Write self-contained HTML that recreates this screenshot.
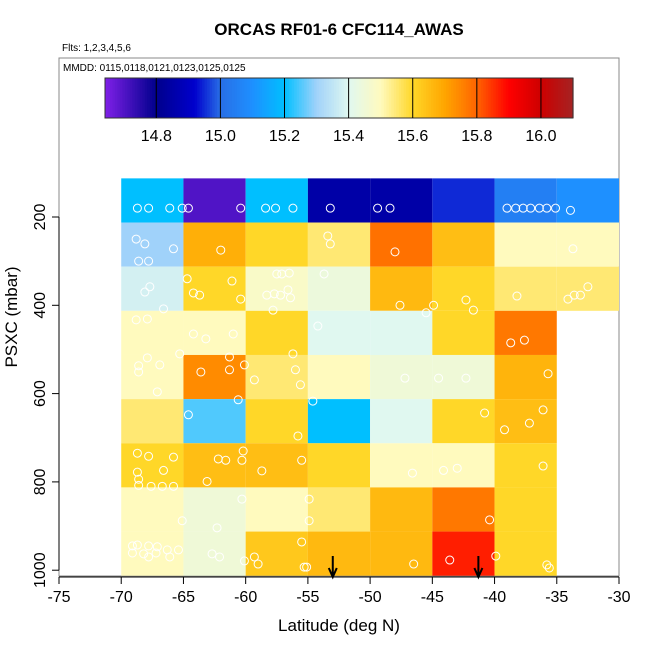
<!DOCTYPE html>
<html><head><meta charset="utf-8"><style>
body{margin:0;background:#fff;font-family:"Liberation Sans",sans-serif}
</style></head><body>
<svg id="c" width="650" height="650" xmlns="http://www.w3.org/2000/svg" font-family="Liberation Sans, sans-serif">
<text x="339" y="35" text-anchor="middle" font-size="17" font-weight="bold">ORCAS RF01-6 CFC114_AWAS</text>
<text x="62" y="51" font-size="10">Flts: 1,2,3,4,5,6</text>
<rect x="59" y="58" width="560" height="518" fill="none" stroke="#888"/>
<text x="63" y="71" font-size="10">MMDD: 0115,0118,0121,0123,0125,0125</text>
<g id="cells"></g><g id="pts"></g><g id="cbar"></g><g id="axes"></g>
<text x="339" y="631" text-anchor="middle" font-size="17">Latitude (deg N)</text>
<text transform="translate(17,317) rotate(-90)" text-anchor="middle" font-size="17">PSXC (mbar)</text>
</svg>
<script>
const lats=[-70,-65,-60,-55,-50,-45,-40,-35];
const pBounds=[112.5,212.5,312.5,412.5,512.5,612.5,712.5,812.5,912.5,1012.5];
const cellValues=[
[15.2,14.7,15.2,14.85,14.85,14.95,15.05,15.1],
[15.3,15.68,15.6,15.55,15.78,15.65,15.5,15.5],
[15.38,15.6,15.48,15.44,15.66,15.6,15.55,15.55],
[15.5,15.5,15.6,15.4,15.4,15.6,15.77,null],
[15.5,15.74,15.55,15.5,15.45,15.45,15.67,null],
[15.55,15.25,15.6,15.2,15.4,15.6,15.65,null],
[15.6,15.65,15.65,15.6,15.5,15.5,15.6,null],
[15.5,15.45,15.5,15.55,15.66,15.77,15.6,null],
[15.5,15.45,15.63,15.66,15.66,15.87,15.6,null]];
const ptLat=[-68.7,-67.8,-66.1,-65.1,-64.6,-60.4,-58.4,-57.6,-56.2,-53.2,-49.4,-48.4,-39.0,-38.3,-37.7,-37.1,-36.4,-35.8,-35.1,-33.9,
-68.8,-68.1,-65.8,-62.0,-53.4,-53.2,-48.0,-33.7,-68.6,-67.8,
-64.7,-61.1,-64.2,-63.7,-60.4,-67.7,-68.1,-66.6,-57.5,-57.1,-56.5,-58.3,-57.7,-57.2,-56.6,-56.4,-57.8,-53.7,-47.6,-44.9,-42.3,-41.7,-38.2,-34.1,-33.6,-33.1,-32.5,
-68.8,-67.9,-64.2,-63.2,-61.0,-54.2,-45.5,-38.7,-37.6,
-67.9,-68.6,-68.6,-66.9,-67.1,-65.3,-63.6,-61.3,-61.3,-60.1,-59.3,-56.2,-56.0,-55.6,-47.2,-44.5,-42.3,-35.7,
-60.6,-64.6,-54.6,-55.8,-40.8,-39.2,-37.2,-36.1,
-68.7,-67.8,-65.8,-68.7,-66.6,-68.6,-68.6,-67.6,-66.7,-65.8,-62.2,-61.6,-60.2,-60.3,-58.7,-63.1,-55.5,-46.6,-44.1,-43.0,-36.1,
-60.3,-65.1,-62.3,-54.9,-54.9,-40.4,
-69.1,-68.7,-67.8,-67.1,-66.3,-69.1,-68.2,-67.8,-67.2,-65.4,-66.1,-62.7,-62.1,-60.1,-59.3,-59.0,-55.5,-55.3,-55.1,-46.5,-43.6,-39.9,-35.8,-35.6];
const ptP=[180,180,180,180,180,180,180,180,180,180,180,180,180,180,180,180,180,180,180,185,
250,261,272,275,243,261,279,272,300,300,
340,345,372,377,386,358,370,408,329,329,327,377,374,377,365,383,411,329,400,400,388,411,379,386,377,377,358,
433,431,465,476,465,447,417,485,479,
519,537,551,535,596,510,551,517,546,535,569,510,546,580,565,565,565,555,
614,648,617,696,644,682,667,637,
735,742,744,778,774,794,808,810,810,810,748,751,730,751,775,799,751,780,774,769,764,
839,888,904,839,888,886,
945,943,945,947,954,961,963,970,961,954,970,963,970,979,970,986,936,993,993,986,977,968,988,995];
const arrowLats=[-53,-41.3];
const xTicks=[-75,-70,-65,-60,-55,-50,-45,-40,-35,-30];
const yTicks=[200,400,600,800,1000];
const cbTicks=[14.8,15.0,15.2,15.4,15.6,15.8,16.0];
const cbMin=14.64, cbMax=16.1;
const X=v=>59+(v+75)*560/45;
const Y=p=>217+(p-200)*0.4415;
const CB=v=>105+(v-cbMin)*(573-105)/(cbMax-cbMin);
const stops=[[14.64,[128,32,232]],[14.8,[0,0,140]],[14.92,[0,0,205]],[15.0,[40,110,230]],[15.1,[30,144,255]],[15.2,[0,191,255]],[15.3,[160,210,250]],[15.4,[224,248,240]],[15.5,[255,250,190]],[15.6,[255,215,40]],[15.7,[255,165,0]],[15.8,[255,100,0]],[15.9,[255,0,0]],[16.0,[205,0,0]],[16.1,[165,35,35]]];
function col(v){for(let i=0;i<stops.length-1;i++){const a=stops[i],b=stops[i+1];if(v<=b[0]||i==stops.length-2){let t=Math.max(0,Math.min(1,(v-a[0])/(b[0]-a[0])));return'rgb('+a[1].map((c,k)=>Math.round(c+(b[1][k]-c)*t)).join(',')+')';}}}
const NS='http://www.w3.org/2000/svg';
function mk(t,a,par){const e=document.createElementNS(NS,t);for(const k in a)e.setAttribute(k,a[k]);document.getElementById(par).appendChild(e);return e;}
cellValues.forEach((row,r)=>row.forEach((v,c)=>{if(v==null)return;
const e=mk('rect',{x:X(lats[c]),y:Y(pBounds[r]),width:X(lats[c]+5)-X(lats[c]),height:Y(pBounds[r+1])-Y(pBounds[r]),fill:col(v)},'cells');

}));
ptLat.forEach((la,i)=>{const e=mk('circle',{cx:X(la),cy:Y(ptP[i]),r:4,fill:'none',stroke:'#fff','stroke-width':1},'pts');

});
arrowLats.forEach(la=>{const x=X(la);const e=mk('path',{d:`M${x},556 L${x},576 M${x-4},568 L${x},577 L${x+4},568`,stroke:'#000','stroke-width':2,fill:'none'},'pts');

});
const N=188;
for(let i=0;i<N;i++){const v=cbMin+(cbMax-cbMin)*i/N;const e=mk('rect',{x:CB(v),y:78,width:(573-105)/N+0.6,height:40,fill:col(v+0.004)},'cbar');

}
const fr=mk('rect',{x:105,y:78,width:468,height:40,fill:'none',stroke:'#333'},'cbar');


cbTicks.forEach(v=>{const l=mk('line',{x1:CB(v),x2:CB(v),y1:78,y2:118,stroke:'#000','stroke-width':1},'cbar');


const t=mk('text',{x:CB(v),y:141,'text-anchor':'middle','font-size':16},'cbar');t.textContent=v.toFixed(1);

});
const xa=mk('line',{x1:X(-75),x2:X(-30),y1:577,y2:577,stroke:'#000'},'axes');


xTicks.forEach(v=>{const l=mk('line',{x1:X(v),x2:X(v),y1:577,y2:584,stroke:'#000'},'axes');


const t=mk('text',{x:X(v),y:602,'text-anchor':'middle','font-size':16},'axes');t.textContent=v;

});
const ya=mk('line',{x1:59,x2:59,y1:Y(200),y2:Y(1000),stroke:'#000'},'axes');


yTicks.forEach(v=>{const l=mk('line',{x1:52,x2:59,y1:Y(v),y2:Y(v),stroke:'#000'},'axes');


const t=mk('text',{transform:`translate(45,${Y(v)}) rotate(-90)`,'text-anchor':'middle','font-size':16},'axes');t.textContent=v;

});
</script>
</body></html>
